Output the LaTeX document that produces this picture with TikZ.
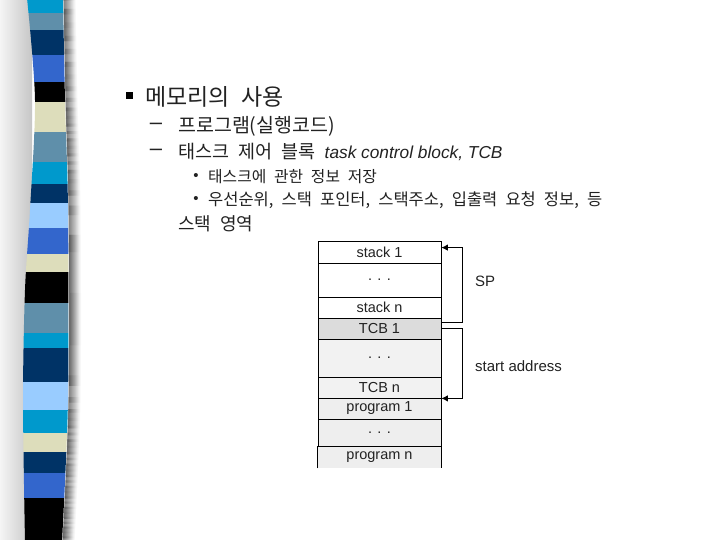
\documentclass[tikz,border=0pt]{standalone}
\usepackage{fontspec}
\setmainfont{Liberation Sans}
\newfontfamily\kr[WordSpace=2.2]{Noto Sans CJK KR}
\usetikzlibrary{arrows.meta,calc}
\definecolor{cA}{HTML}{0099CC}
\definecolor{cS}{HTML}{5F8FAA}
\definecolor{cN}{HTML}{003366}
\definecolor{cR}{HTML}{3366CC}
\definecolor{cK}{HTML}{000000}
\definecolor{cB}{HTML}{DDDDBB}
\definecolor{cL}{HTML}{99CCFF}
\definecolor{txt}{HTML}{222222}
\definecolor{tcbA}{HTML}{DCDCDC}
\definecolor{tcbB}{HTML}{F2F2F2}
\definecolor{prog}{HTML}{EEEEEE}
\tikzset{
  textline/.style={anchor=west,inner sep=0pt,text=txt},
  dashmark/.style={inner sep=0pt,text=txt,font=\fontsize{22}{24}\selectfont},
  dotmark/.style={inner sep=0pt,text=txt,font=\fontsize{15}{17}\selectfont},
  memrow/.style={draw=black,line width=0.8pt,minimum width=123pt,inner sep=0pt,text=txt,font=\fontsize{14.5}{16}\selectfont},
  arrowline/.style={line width=0.8pt,-{Latex[length=6.5pt,width=6.5pt]}},
  plainline/.style={line width=0.8pt},
  sidelabel/.style={anchor=west,inner sep=0pt,text=txt,font=\fontsize{15}{17}\selectfont}
}
\begin{document}
\begin{tikzpicture}[x=1pt,y=-1pt]
\useasboundingbox (0,0) rectangle (720,540);
\fill[white] (0,0) rectangle (720,540);
% left soft shadow
\shade[left color=gray!8,right color=gray!45] (0,0) rectangle (32,540);
% right shadow
\foreach \i/\o in {1/0.55,2/0.5,3/0.45,4/0.4,5/0.35,6/0.3,7/0.25,8/0.2,9/0.15,10/0.1,11/0.06,12/0.03}
  \draw[black,opacity=\o,line width=1.1pt,shift={(\i,0)}] plot[smooth] coordinates {(63,-2) (65,100) (68,210) (68,400) (62,542)};
% stripes
\begin{scope}
\clip plot[smooth] coordinates {(27,-2) (35,100) (30,210) (25,290) (23,400) (25,542)}
  -- plot[smooth] coordinates {(62,542) (68,400) (68,210) (65,100) (63,-2)} -- cycle;
\foreach \a/\b/\c in {0/13/cA,13/30/cS,30/55/cN,55/82/cR,82/102/cK,102/132/cB,132/162/cS,162/184/cA,184/203/cN,203/228/cL,228/254/cR,254/272/cB,272/303/cK,303/333/cS,333/348/cA,348/382/cN,382/410/cL,410/433/cA,433/452/cB,452/473/cN,473/498/cR,498/540/cK}
  \fill[\c] (0,\a-0.3) rectangle (90,\b+0.3);
\end{scope}
% text block
\node[fill=black,minimum size=7pt,inner sep=0pt] (sq) at (129,96) {};
\node[textline,font=\kr\fontsize{23}{26}\selectfont] (t1) at (145,97) {메모리의 사용};
\node[dashmark] (d2) at (156,126) {–};
\node[textline,font=\kr\fontsize{19.5}{22}\selectfont] (t2) at (178,126) {프로그램(실행코드)};
\node[dashmark] (d3) at (156,152) {–};
\node[textline,font=\kr\fontsize{18.5}{22}\selectfont] (t3) at (178,152) {태스크 제어 블록 {\rmfamily\itshape\fontsize{17.3}{20}\selectfont task control block, TCB}};
\node[dotmark] (b4) at (196,177) {•};
\node[textline,font=\kr\fontsize{15.8}{19}\selectfont] (t4) at (208,177) {태스크에 관한 정보 저장};
\node[dotmark] (b5) at (196,200) {•};
\node[textline,font=\kr\fontsize{16.5}{19}\selectfont] (t5) at (208,200) {우선순위, 스택 포인터, 스택주소, 입출력 요청 정보, 등};
\node[textline,font=\kr\fontsize{18}{21}\selectfont] (t6) at (178,224) {스택 영역};
% memory map
\node[memrow,fill=white,minimum height=22pt] (s1) at (379.5,252) {stack 1};
\node[memrow,fill=white,minimum height=34pt] (sd) at (379.5,280) {. . .};
\node[memrow,fill=white,minimum height=21pt] (sn) at (379.5,307.5) {stack n};
\node[memrow,fill=tcbA,minimum height=21pt] (c1) at (379.5,328.5) {TCB 1};
\node[memrow,fill=tcbB,minimum height=38pt] (cd) at (379.5,358) {. . .};
\node[memrow,fill=tcbB,minimum height=21pt] (cn) at (379.5,387.5) {TCB n};
\node[memrow,fill=prog,minimum height=21pt] (p1) at (379.5,408.5) {program 1};
\node[memrow,fill=prog,minimum height=28pt] (pd) at (379.5,433) {. . .};
\node[memrow,draw=none,fill=prog,minimum height=21pt] (pn) at (379.5,457.5) {program n};
\draw[plainline] (pn.south west) -- (pn.north west) -- (pn.north east) -- (pn.south east);
% connectors
\coordinate (spfrom) at ($(c1.north east)+(0,5)$);
\coordinate (spto) at ($(s1.north east)+(0,7)$);
\draw[arrowline] (spfrom) -- ++(21,0) |- (spto);
\draw[arrowline] (c1.east) -- ++(21,0) |- (cn.south east);
\node[sidelabel] (sp) at (475,281) {SP};
\node[sidelabel] (sa) at (475,366) {start address};
\end{tikzpicture}
\end{document}
